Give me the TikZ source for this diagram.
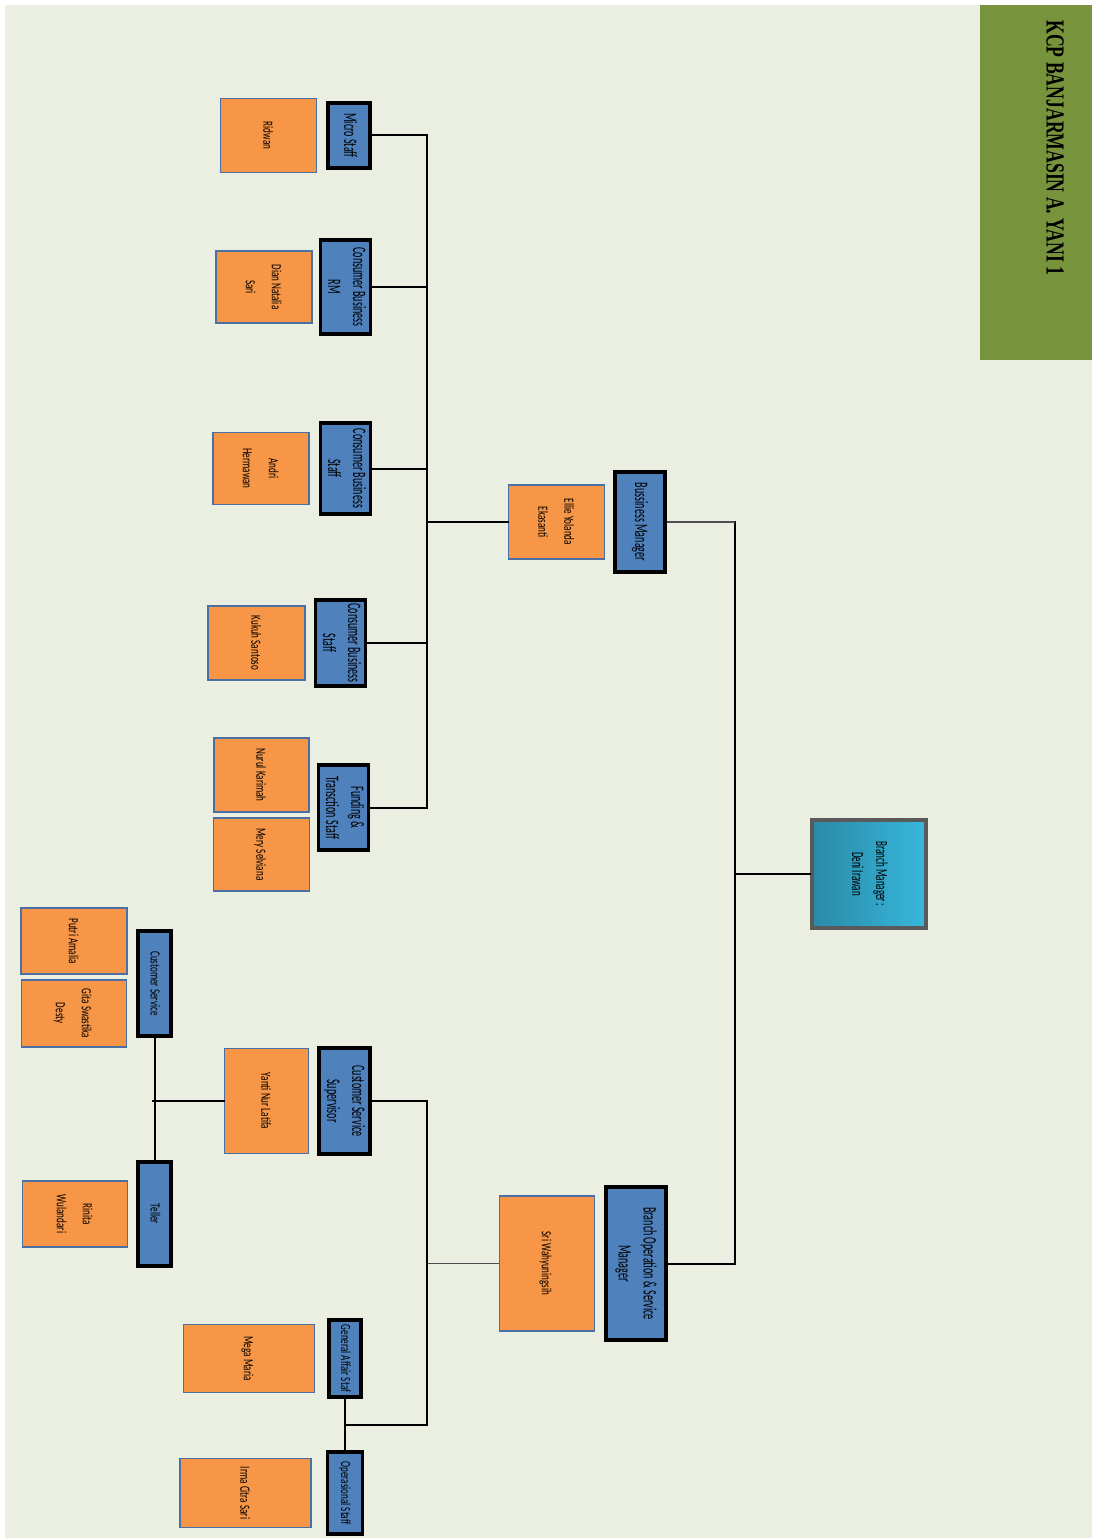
\documentclass[tikz,border=0pt]{standalone}
\usepackage{fontspec}
\usepackage{graphicx}
\usetikzlibrary{positioning,calc}
\newfontfamily\rolefont[FakeStretch=0.53]{Carlito}
\newfontfamily\namefont[FakeStretch=0.65]{Carlito}
\newfontfamily\bannerfont[FakeStretch=0.68]{Liberation Serif}
\definecolor{pagebg}{HTML}{EBEFE1}
\definecolor{bannergreen}{HTML}{77933C}
\definecolor{roleblue}{HTML}{4F81BD}
\definecolor{nameorange}{HTML}{F79646}
\definecolor{nameedge}{HTML}{4A6FA5}
\definecolor{headteal}{HTML}{2A8AA6}
\definecolor{headtealhi}{HTML}{37B7DC}
\definecolor{headedge}{HTML}{5A5A5A}
\definecolor{thinwire}{HTML}{4D4D4D}
\newcommand{\vtext}[1]{\rotatebox{-90}{\begin{tabular}{@{}c@{}}#1\end{tabular}}}
\tikzset{
  rolebox/.style={
    draw=black,
    line width=3.2pt,
    fill=roleblue,
    inner sep=0pt,
    font=\rolefont\fontsize{19}{25}\selectfont
  },
  smallrole/.style={rolebox, font=\namefont\fontsize{14}{20}\selectfont},
  namebox/.style={
    draw=nameedge,
    line width=1.8pt,
    fill=nameorange,
    inner sep=0pt,
    font=\namefont\fontsize{14}{26}\selectfont
  },
  headbox/.style={
    draw=headedge,
    line width=3.5pt,
    left color=headteal,
    right color=headtealhi,
    inner sep=0pt,
    font=\rolefont\fontsize{17}{24}\selectfont
  },
  wire/.style={line width=2pt, draw=black, line cap=rect},
  softwire/.style={line width=1.1pt, draw=thinwire}
}

\begin{document}
\begin{tikzpicture}[x=1pt, y=-1pt]
\useasboundingbox (0,0) rectangle (1092,1538);
\fill[pagebg] (5,5) rectangle (1092,1538);

% banner
\node[fill=bannergreen, minimum width=112, minimum height=355, inner sep=0pt] (banner) at (1036,182.5) {};
\node[font=\bannerfont\bfseries\fontsize{26}{30}\selectfont, inner sep=0pt] (bannertext) at (1055,148) {\rotatebox{-90}{KCP BANJARMASIN A. YANI 1}};

% head of branch
\node[headbox, minimum width=114, minimum height=108] (bm) at (869,874) {\vtext{Branch Manager :\\Deni Irawan}};
\node[rolebox, minimum width=50, minimum height=100] (busmgr) at (640,522) {\vtext{Bussiness Manager}};
\node[namebox, minimum width=96, minimum height=74, left=8pt of busmgr] (ellie) {\vtext{Ellie Yolanda\\Ekasanti}};
\node[rolebox, minimum width=60, minimum height=153] (bosm) at (636,1263.5) {\vtext{Branch Operation \& Service\\Manager}};
\node[namebox, minimum width=95, minimum height=135, left=9pt of bosm] (sri) {\vtext{Sri Wahyuningsih}};

% business side
\node[rolebox, minimum width=42, minimum height=65] (micro) at (349,135.5) {\vtext{Micro Staff}};
\node[namebox, minimum width=96, minimum height=74, left=9pt of micro] (ridwan) {\vtext{Ridwan}};
\node[rolebox, minimum width=49, minimum height=94] (cbrm) at (345.5,287) {\vtext{Consumer Business\\RM}};
\node[namebox, minimum width=96, minimum height=72, left=6pt of cbrm] (dian) {\vtext{Dian Natalia\\Sari}};
\node[rolebox, minimum width=49, minimum height=91] (cbstaff) at (345.5,468.5) {\vtext{Consumer Business\\Staff}};
\node[namebox, minimum width=96, minimum height=72, left=9pt of cbstaff] (andri) {\vtext{Andri\\Hermawan}};
\node[rolebox, minimum width=49, minimum height=86] (cbstafftwo) at (340.5,643) {\vtext{Consumer Business\\Staff}};
\node[namebox, minimum width=97, minimum height=74, left=8pt of cbstafftwo] (kukuh) {\vtext{Kukuh Santoso}};
\node[rolebox, minimum width=49, minimum height=85] (funding) at (343.5,807.5) {\vtext{Funding \&\\Transction Staff}};
\node[namebox, minimum width=95, minimum height=74] (nurul) at (261.5,775) {\vtext{Nurul Karimah}};
\node[namebox, minimum width=96, minimum height=73, below=4pt of nurul] (mery) {\vtext{Mery Selviana}};

% operation side
\node[rolebox, minimum width=51, minimum height=106] (css) at (344.5,1101) {\vtext{Customer Service\\Supervisor}};
\node[namebox, minimum width=84, minimum height=105, left=8pt of css] (yanti) {\vtext{Yanti Nur Latifa}};
\node[smallrole, minimum width=33, minimum height=105] (cs) at (154.5,983.5) {\vtext{Customer Service}};
\node[namebox, minimum width=106, minimum height=66] (putri) at (74,941) {\vtext{Putri Amalia}};
\node[namebox, minimum width=105, minimum height=67, below=4pt of putri] (gita) {\vtext{Gita Swastika\\Desty}};
\node[smallrole, minimum width=33, minimum height=104] (teller) at (154.5,1214) {\vtext{Teller}};
\node[namebox, minimum width=105, minimum height=66, left=8pt of teller] (rinita) {\vtext{Rinita\\Wulandari}};
\node[smallrole, minimum width=32, minimum height=77] (gaffair) at (345,1358.5) {\vtext{General Affair Staf}};
\node[namebox, minimum width=131, minimum height=68, left=12pt of gaffair] (mega) {\vtext{Mega Maria}};
\node[smallrole, minimum width=35, minimum height=82] (opstaff) at (345,1493) {\vtext{Operasional Staff}};
\node[namebox, minimum width=131, minimum height=69, left=14pt of opstaff] (irma) {\vtext{Irma Citra Sari}};

% buses
\coordinate (rootbus) at (735,875);
\coordinate (bizbus) at (427,522);
\coordinate (opsbus) at (427,1262);
\coordinate (csbus) at (153,1104);
\coordinate (opsjoin) at ($(gaffair.south)!.5!(opstaff.north)$);

\draw[wire] (bm.west) -- (bm.west -| rootbus);
\draw[wire] (busmgr.east -| rootbus) -- (bosm.east -| rootbus);
\draw[softwire] (busmgr.east) -- (busmgr.east -| rootbus);
\draw[wire] (bosm.east) -- (bosm.east -| rootbus);

\draw[wire] (ellie.west) -- (ellie.west -| bizbus);
\draw[wire] (micro.east -| bizbus) -- (funding.east -| bizbus);
\foreach \role in {micro,cbrm,cbstaff,cbstafftwo,funding}
  \draw[wire] (\role.east) -- (\role.east -| bizbus);

\draw[softwire] (sri.west) -- (sri.west -| opsbus);
\draw[wire] (css.east -| opsbus) -- (opsjoin -| opsbus);
\draw[wire] (css.east) -- (css.east -| opsbus);
\draw[wire] (opsjoin) -- (opsjoin -| opsbus);
\draw[wire] (gaffair.south) -- (opstaff.north);

\draw[wire] (yanti.west) -- (yanti.west -| csbus);
\draw[wire] (cs.south) -- (teller.north);
\end{tikzpicture}
\end{document}
